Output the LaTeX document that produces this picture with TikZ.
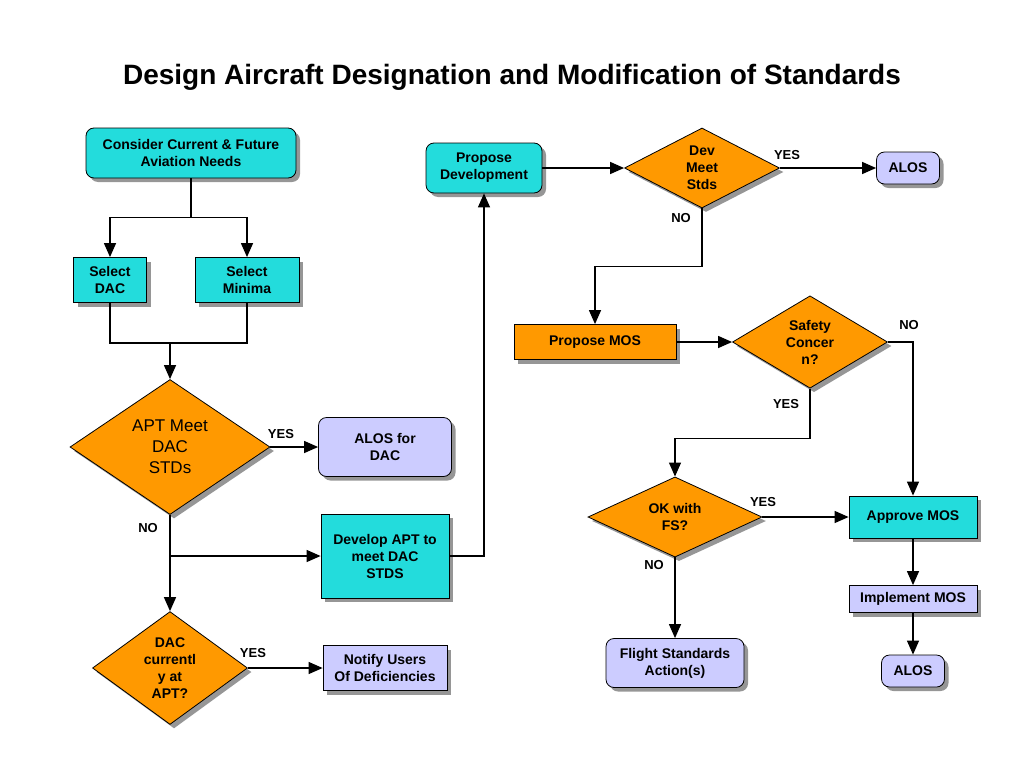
\documentclass[tikz,border=0pt]{standalone}
\usepackage{fontspec}
\setmainfont{Liberation Sans}
\usetikzlibrary{arrows.meta,shapes.geometric,shadows}
\definecolor{cyanbox}{RGB}{35,220,220}
\definecolor{orangebox}{RGB}{255,153,0}
\definecolor{lavbox}{RGB}{204,204,255}
\definecolor{shadowgray}{RGB}{150,150,150}
\tikzset{
  base/.style={draw=black, line width=0.8pt, align=center, font=\bfseries\fontsize{14}{17}\selectfont,
    inner sep=0pt, drop shadow={shadow xshift=4pt, shadow yshift=-4pt, fill=shadowgray, opacity=1}},
  rbox/.style={base, rectangle, rounded corners=8pt},
  dia/.style={base, diamond, fill=orangebox},
  arr/.style={line width=1.3pt, -{Triangle[length=14pt,width=12pt]}},
  ln/.style={line width=1.3pt},
  lab/.style={font=\bfseries\fontsize{13}{15}\selectfont, inner sep=0pt},
}
\begin{document}
\begin{tikzpicture}[x=1pt,y=-1pt]
\useasboundingbox (0,0) rectangle (1024,768);
\node[font=\bfseries\fontsize{28}{32}\selectfont] (title) at (512,77) {Design Aircraft Designation and Modification of Standards};

% left column
\node[rbox, fill=cyanbox, minimum width=210pt, minimum height=50pt] (cons) at (191,153) {Consider Current \& Future\\Aviation Needs};
\node[base, fill=cyanbox, minimum width=73pt, minimum height=45pt] (sdac) at (110,280) {Select\\DAC};
\node[base, fill=cyanbox, minimum width=104pt, minimum height=45pt] (smin) at (247,280) {Select\\Minima};
\node[dia, minimum width=200pt, minimum height=135pt, font=\fontsize{17}{21}\selectfont] (apt) at (170,447) {APT Meet\\DAC\\STDs};
\node[rbox, fill=lavbox, minimum width=133pt, minimum height=59pt] (alosdac) at (385,447) {ALOS for\\DAC};
\node[base, fill=cyanbox, minimum width=128pt, minimum height=84pt] (dev) at (385,556) {Develop APT to\\meet DAC\\STDS};
\node[dia, minimum width=155pt, minimum height=112pt, font=\bfseries\fontsize{14}{17}\selectfont] (dac) at (170,668) {DAC\\currentl\\y at\\APT?};
\node[base, fill=lavbox, minimum width=124pt, minimum height=45pt] (notify) at (385,668) {Notify Users\\Of Deficiencies};

% right part
\node[rbox, fill=cyanbox, minimum width=116pt, minimum height=50pt] (pdev) at (484,168) {Propose\\Development};
\node[dia, minimum width=155pt, minimum height=80pt] (devm) at (702,168) {Dev\\Meet\\Stds};
\node[rbox, fill=lavbox, minimum width=63pt, minimum height=32pt] (alos2) at (908,168) {ALOS};
\node[base, fill=orangebox, minimum width=162pt, minimum height=35pt] (pmos) at (595,342) {Propose MOS};
\node[dia, minimum width=155pt, minimum height=75pt] (safe) at (810,342) {Safety\\Concer\\n?};
\node[dia, minimum width=174pt, minimum height=79pt] (okfs) at (675,517) {OK with\\FS?};
\node[base, fill=cyanbox, minimum width=128pt, minimum height=42pt] (appr) at (913,517) {Approve MOS};
\node[base, fill=lavbox, minimum width=128pt, minimum height=27pt] (impl) at (913,599) {Implement MOS};
\node[rbox, fill=lavbox, minimum width=63pt, minimum height=32pt] (alos3) at (913,671) {ALOS};
\node[rbox, fill=lavbox, minimum width=138pt, minimum height=49pt] (fsa) at (675,663) {Flight Standards\\Action(s)};

% connectors
\draw[arr] (cons.south) -- ++(0,39) -| (sdac.north);
\draw[arr] (cons.south) -- ++(0,39) -| (smin.north);
\draw[ln] (sdac.south) -- ++(0,40) -| (smin.south);
\coordinate (j1) at (apt.north |- 0,342);
\draw[arr] (j1) -- (apt.north);
\draw[arr] (apt.east) -- (alosdac.west);
\draw[arr] (apt.south) -- (dac.north);
\coordinate (j2) at (apt.south |- dev.west);
\draw[arr] (j2) -- (dev.west);
\draw[arr] (dev.east) -| (pdev.south);
\draw[arr] (dac.east) -- (notify.west);
\draw[arr] (pdev.east) -- (devm.west);
\draw[arr] (devm.east) -- (alos2.west);
\draw[arr] (devm.south) -- ++(0,58) -| (pmos.north);
\draw[arr] (pmos.east) -- (safe.west);
\draw[arr] (safe.east) -| (appr.north);
\draw[arr] (safe.south) -- ++(0,50) -| (okfs.north);
\draw[arr] (okfs.east) -- (appr.west);
\draw[arr] (okfs.south) -- (fsa.north);
\draw[arr] (appr.south) -- (impl.north);
\draw[arr] (impl.south) -- (alos3.north);

% labels
\node[lab] (l1) at (281,434) {YES};
\node[lab] (l2) at (148,528) {NO};
\node[lab] (l3) at (253,653) {YES};
\node[lab] (l4) at (787,155) {YES};
\node[lab] (l5) at (681,218) {NO};
\node[lab] (l6) at (909,325) {NO};
\node[lab] (l7) at (786,404) {YES};
\node[lab] (l8) at (763,502) {YES};
\node[lab] (l9) at (654,565) {NO};
\end{tikzpicture}
\end{document}
